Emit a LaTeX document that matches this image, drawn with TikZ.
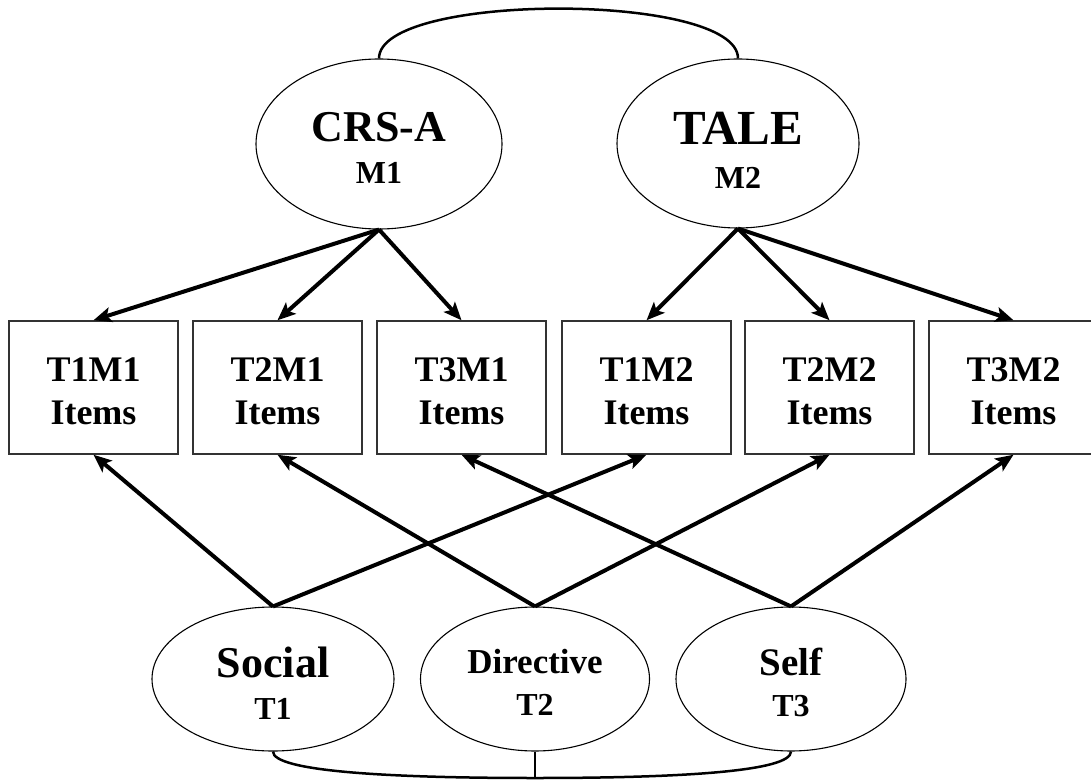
\documentclass[tikz,border=0pt]{standalone}
\usepackage{fontspec}
\setmainfont{Liberation Serif}
\usetikzlibrary{shapes.geometric,arrows.meta}
\begin{document}
\begin{tikzpicture}[x=1pt,y=-1pt,
  lat/.style={draw, ellipse, line width=1.1pt, inner sep=0pt},
  obs/.style={draw=black!80, rectangle, line width=1.5pt, minimum width=169pt, minimum height=133pt, inner sep=0pt},
  txt/.style={anchor=base, inner sep=0pt},
  load/.style={line width=4pt, -{Stealth[length=18pt,width=15pt,inset=4pt]}},
  cov/.style={line width=2.5pt}]
\useasboundingbox (0,0) rectangle (1091,783);
% latent method factors
\node[lat, minimum width=246pt, minimum height=170pt] (m1) at (379,144) {};
\node[lat, minimum width=242pt, minimum height=169pt] (m2) at (738,143.5) {};
\node[txt, font=\fontsize{44}{44}\selectfont\bfseries] (m1a) at (379,142) {CRS-A};
\node[txt, font=\fontsize{32}{32}\selectfont\bfseries] (m1b) at (379,184) {M1};
\node[txt, font=\fontsize{49}{49}\selectfont\bfseries] (m2a) at (738,145) {TALE};
\node[txt, font=\fontsize{32}{32}\selectfont\bfseries] (m2b) at (738,189) {M2};
% latent trait factors
\node[lat, minimum width=242pt, minimum height=144pt] (soc) at (273,679) {};
\node[lat, minimum width=229pt, minimum height=144pt] (dir) at (535,679) {};
\node[lat, minimum width=230pt, minimum height=144pt] (slf) at (791,679) {};
\node[txt, font=\fontsize{44}{44}\selectfont\bfseries] (soca) at (273,677) {Social};
\node[txt, font=\fontsize{32}{32}\selectfont\bfseries] (socb) at (273,719) {T1};
\node[txt, font=\fontsize{35}{35}\selectfont\bfseries] (dira) at (535,673) {Directive};
\node[txt, font=\fontsize{32}{32}\selectfont\bfseries] (dirb) at (535,715) {T2};
\node[txt, font=\fontsize{39}{39}\selectfont\bfseries] (slfa) at (791,675) {Self};
\node[txt, font=\fontsize{32}{32}\selectfont\bfseries] (slfb) at (791,716) {T3};
% observed item boxes
\foreach \n/\x/\lab in {b11/93.5/T1M1, b21/277.5/T2M1, b31/461.5/T3M1, b12/646.5/T1M2, b22/829.5/T2M2, b32/1013.5/T3M2}{
  \node[obs] (\n) at (\x,387.5) {};
  \node[txt, font=\fontsize{36}{36}\selectfont\bfseries] (\n a) at (\x,381) {\lab};
  \node[txt, font=\fontsize{36}{36}\selectfont\bfseries] (\n b) at (\x,424) {Items};
}
% correlations
\draw[cov] (m1.north) .. controls (379,-8) and (738,-8) .. (m2.north);
\coordinate (bj) at (535,778);
\draw[cov] (soc.south) .. controls (273,771) and (385,778) .. (bj) .. controls (685,778) and (791,771) .. (slf.south);
\draw[cov] (dir.south) -- (bj);
% method loadings
\draw[load] (m1.south) -- (b11.north);
\draw[load] (m1.south) -- (b21.north);
\draw[load] (m1.south) -- (b31.north);
\draw[load] (m2.south) -- (b12.north);
\draw[load] (m2.south) -- (b22.north);
\draw[load] (m2.south) -- (b32.north);
% trait loadings
\draw[load] (soc.north) -- (b11.south);
\draw[load] (soc.north) -- (b12.south);
\draw[load] (dir.north) -- (b21.south);
\draw[load] (dir.north) -- (b22.south);
\draw[load] (slf.north) -- (b31.south);
\draw[load] (slf.north) -- (b32.south);
\end{tikzpicture}
\end{document}
